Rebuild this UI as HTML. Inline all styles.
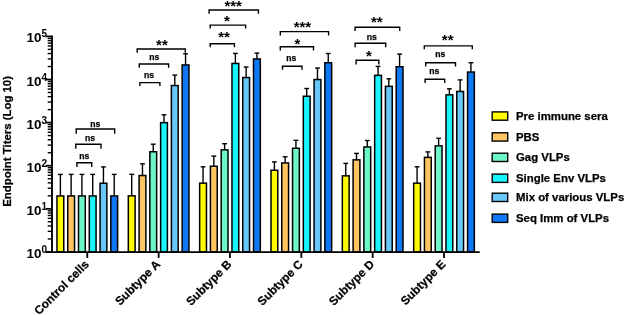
<!DOCTYPE html>
<html><head><meta charset="utf-8"><style>
html,body{margin:0;padding:0;background:#fff;width:625px;height:315px;overflow:hidden}
svg{display:block;will-change:transform}
text{font-family:"Liberation Sans",sans-serif;fill:#000;stroke:#000;stroke-width:0.25px}
.tl{font-size:13.5px;font-weight:bold;stroke-width:0}
.ts{font-size:10px;font-weight:bold;stroke-width:0}
.xl{font-size:11.8px;font-weight:bold}
.ns{font-size:8.6px;font-weight:bold}
.st{font-size:15px;font-weight:bold;stroke-width:0}
.yt{font-size:11.4px;font-weight:bold}
.lg{font-size:11.4px;font-weight:bold}
</style></head><body>
<svg width="625" height="315" viewBox="0 0 625 315">
<line x1="60.38" y1="195.70" x2="60.38" y2="174.40" stroke="#000" stroke-width="1.4"/>
<line x1="57.98" y1="174.40" x2="62.77" y2="174.40" stroke="#000" stroke-width="1.4"/>
<rect x="56.98" y="195.95" width="6.80" height="55.95" fill="#FFFA00" stroke="#000" stroke-width="1.5"/>
<line x1="71.14" y1="195.70" x2="71.14" y2="174.40" stroke="#000" stroke-width="1.4"/>
<line x1="68.74" y1="174.40" x2="73.55" y2="174.40" stroke="#000" stroke-width="1.4"/>
<rect x="67.74" y="195.95" width="6.80" height="55.95" fill="#FFC563" stroke="#000" stroke-width="1.5"/>
<line x1="81.91" y1="195.70" x2="81.91" y2="174.40" stroke="#000" stroke-width="1.4"/>
<line x1="79.51" y1="174.40" x2="84.31" y2="174.40" stroke="#000" stroke-width="1.4"/>
<rect x="78.51" y="195.95" width="6.80" height="55.95" fill="#6DF6C8" stroke="#000" stroke-width="1.5"/>
<line x1="92.69" y1="195.70" x2="92.69" y2="174.40" stroke="#000" stroke-width="1.4"/>
<line x1="90.28" y1="174.40" x2="95.09" y2="174.40" stroke="#000" stroke-width="1.4"/>
<rect x="89.28" y="195.95" width="6.80" height="55.95" fill="#18F4FB" stroke="#000" stroke-width="1.5"/>
<line x1="103.45" y1="183.00" x2="103.45" y2="166.90" stroke="#000" stroke-width="1.4"/>
<line x1="101.05" y1="166.90" x2="105.86" y2="166.90" stroke="#000" stroke-width="1.4"/>
<rect x="100.05" y="183.25" width="6.80" height="68.65" fill="#69C8FA" stroke="#000" stroke-width="1.5"/>
<line x1="114.22" y1="195.70" x2="114.22" y2="174.40" stroke="#000" stroke-width="1.4"/>
<line x1="111.82" y1="174.40" x2="116.62" y2="174.40" stroke="#000" stroke-width="1.4"/>
<rect x="110.82" y="195.95" width="6.80" height="55.95" fill="#0F78F5" stroke="#000" stroke-width="1.5"/>
<line x1="131.71" y1="195.60" x2="131.71" y2="174.30" stroke="#000" stroke-width="1.4"/>
<line x1="129.31" y1="174.30" x2="134.11" y2="174.30" stroke="#000" stroke-width="1.4"/>
<rect x="128.31" y="195.85" width="6.80" height="56.05" fill="#FFFA00" stroke="#000" stroke-width="1.5"/>
<line x1="142.48" y1="175.30" x2="142.48" y2="163.80" stroke="#000" stroke-width="1.4"/>
<line x1="140.08" y1="163.80" x2="144.88" y2="163.80" stroke="#000" stroke-width="1.4"/>
<rect x="139.08" y="175.55" width="6.80" height="76.35" fill="#FFC563" stroke="#000" stroke-width="1.5"/>
<line x1="153.25" y1="151.50" x2="153.25" y2="144.20" stroke="#000" stroke-width="1.4"/>
<line x1="150.85" y1="144.20" x2="155.66" y2="144.20" stroke="#000" stroke-width="1.4"/>
<rect x="149.85" y="151.75" width="6.80" height="100.15" fill="#6DF6C8" stroke="#000" stroke-width="1.5"/>
<line x1="164.02" y1="122.40" x2="164.02" y2="114.80" stroke="#000" stroke-width="1.4"/>
<line x1="161.62" y1="114.80" x2="166.42" y2="114.80" stroke="#000" stroke-width="1.4"/>
<rect x="160.62" y="122.65" width="6.80" height="129.25" fill="#18F4FB" stroke="#000" stroke-width="1.5"/>
<line x1="174.79" y1="85.30" x2="174.79" y2="75.10" stroke="#000" stroke-width="1.4"/>
<line x1="172.39" y1="75.10" x2="177.19" y2="75.10" stroke="#000" stroke-width="1.4"/>
<rect x="171.39" y="85.55" width="6.80" height="166.35" fill="#69C8FA" stroke="#000" stroke-width="1.5"/>
<line x1="185.56" y1="64.70" x2="185.56" y2="53.80" stroke="#000" stroke-width="1.4"/>
<line x1="183.16" y1="53.80" x2="187.97" y2="53.80" stroke="#000" stroke-width="1.4"/>
<rect x="182.16" y="64.95" width="6.80" height="186.95" fill="#0F78F5" stroke="#000" stroke-width="1.5"/>
<line x1="203.06" y1="182.90" x2="203.06" y2="166.80" stroke="#000" stroke-width="1.4"/>
<line x1="200.66" y1="166.80" x2="205.46" y2="166.80" stroke="#000" stroke-width="1.4"/>
<rect x="199.66" y="183.15" width="6.80" height="68.75" fill="#FFFA00" stroke="#000" stroke-width="1.5"/>
<line x1="213.83" y1="166.00" x2="213.83" y2="156.10" stroke="#000" stroke-width="1.4"/>
<line x1="211.43" y1="156.10" x2="216.23" y2="156.10" stroke="#000" stroke-width="1.4"/>
<rect x="210.43" y="166.25" width="6.80" height="85.65" fill="#FFC563" stroke="#000" stroke-width="1.5"/>
<line x1="224.60" y1="149.60" x2="224.60" y2="143.70" stroke="#000" stroke-width="1.4"/>
<line x1="222.20" y1="143.70" x2="227.00" y2="143.70" stroke="#000" stroke-width="1.4"/>
<rect x="221.20" y="149.85" width="6.80" height="102.05" fill="#6DF6C8" stroke="#000" stroke-width="1.5"/>
<line x1="235.37" y1="63.20" x2="235.37" y2="53.40" stroke="#000" stroke-width="1.4"/>
<line x1="232.97" y1="53.40" x2="237.77" y2="53.40" stroke="#000" stroke-width="1.4"/>
<rect x="231.97" y="63.45" width="6.80" height="188.45" fill="#18F4FB" stroke="#000" stroke-width="1.5"/>
<line x1="246.14" y1="77.30" x2="246.14" y2="67.00" stroke="#000" stroke-width="1.4"/>
<line x1="243.74" y1="67.00" x2="248.54" y2="67.00" stroke="#000" stroke-width="1.4"/>
<rect x="242.74" y="77.55" width="6.80" height="174.35" fill="#69C8FA" stroke="#000" stroke-width="1.5"/>
<line x1="256.91" y1="58.70" x2="256.91" y2="53.10" stroke="#000" stroke-width="1.4"/>
<line x1="254.51" y1="53.10" x2="259.31" y2="53.10" stroke="#000" stroke-width="1.4"/>
<rect x="253.51" y="58.95" width="6.80" height="192.95" fill="#0F78F5" stroke="#000" stroke-width="1.5"/>
<line x1="274.39" y1="170.00" x2="274.39" y2="161.90" stroke="#000" stroke-width="1.4"/>
<line x1="272.00" y1="161.90" x2="276.79" y2="161.90" stroke="#000" stroke-width="1.4"/>
<rect x="271.00" y="170.25" width="6.80" height="81.65" fill="#FFFA00" stroke="#000" stroke-width="1.5"/>
<line x1="285.16" y1="162.70" x2="285.16" y2="156.80" stroke="#000" stroke-width="1.4"/>
<line x1="282.76" y1="156.80" x2="287.56" y2="156.80" stroke="#000" stroke-width="1.4"/>
<rect x="281.76" y="162.95" width="6.80" height="88.95" fill="#FFC563" stroke="#000" stroke-width="1.5"/>
<line x1="295.94" y1="148.00" x2="295.94" y2="140.30" stroke="#000" stroke-width="1.4"/>
<line x1="293.54" y1="140.30" x2="298.33" y2="140.30" stroke="#000" stroke-width="1.4"/>
<rect x="292.54" y="148.25" width="6.80" height="103.65" fill="#6DF6C8" stroke="#000" stroke-width="1.5"/>
<line x1="306.70" y1="96.00" x2="306.70" y2="88.50" stroke="#000" stroke-width="1.4"/>
<line x1="304.31" y1="88.50" x2="309.10" y2="88.50" stroke="#000" stroke-width="1.4"/>
<rect x="303.31" y="96.25" width="6.80" height="155.65" fill="#18F4FB" stroke="#000" stroke-width="1.5"/>
<line x1="317.48" y1="79.30" x2="317.48" y2="68.00" stroke="#000" stroke-width="1.4"/>
<line x1="315.08" y1="68.00" x2="319.88" y2="68.00" stroke="#000" stroke-width="1.4"/>
<rect x="314.08" y="79.55" width="6.80" height="172.35" fill="#69C8FA" stroke="#000" stroke-width="1.5"/>
<line x1="328.25" y1="62.50" x2="328.25" y2="53.50" stroke="#000" stroke-width="1.4"/>
<line x1="325.85" y1="53.50" x2="330.64" y2="53.50" stroke="#000" stroke-width="1.4"/>
<rect x="324.85" y="62.75" width="6.80" height="189.15" fill="#0F78F5" stroke="#000" stroke-width="1.5"/>
<line x1="345.74" y1="175.60" x2="345.74" y2="163.40" stroke="#000" stroke-width="1.4"/>
<line x1="343.34" y1="163.40" x2="348.13" y2="163.40" stroke="#000" stroke-width="1.4"/>
<rect x="342.34" y="175.85" width="6.80" height="76.05" fill="#FFFA00" stroke="#000" stroke-width="1.5"/>
<line x1="356.50" y1="159.60" x2="356.50" y2="153.40" stroke="#000" stroke-width="1.4"/>
<line x1="354.11" y1="153.40" x2="358.90" y2="153.40" stroke="#000" stroke-width="1.4"/>
<rect x="353.11" y="159.85" width="6.80" height="92.05" fill="#FFC563" stroke="#000" stroke-width="1.5"/>
<line x1="367.28" y1="146.70" x2="367.28" y2="140.50" stroke="#000" stroke-width="1.4"/>
<line x1="364.88" y1="140.50" x2="369.68" y2="140.50" stroke="#000" stroke-width="1.4"/>
<rect x="363.88" y="146.95" width="6.80" height="104.95" fill="#6DF6C8" stroke="#000" stroke-width="1.5"/>
<line x1="378.05" y1="75.10" x2="378.05" y2="66.40" stroke="#000" stroke-width="1.4"/>
<line x1="375.65" y1="66.40" x2="380.44" y2="66.40" stroke="#000" stroke-width="1.4"/>
<rect x="374.65" y="75.35" width="6.80" height="176.55" fill="#18F4FB" stroke="#000" stroke-width="1.5"/>
<line x1="388.82" y1="86.10" x2="388.82" y2="78.80" stroke="#000" stroke-width="1.4"/>
<line x1="386.42" y1="78.80" x2="391.22" y2="78.80" stroke="#000" stroke-width="1.4"/>
<rect x="385.42" y="86.35" width="6.80" height="165.55" fill="#69C8FA" stroke="#000" stroke-width="1.5"/>
<line x1="399.59" y1="66.50" x2="399.59" y2="54.10" stroke="#000" stroke-width="1.4"/>
<line x1="397.19" y1="54.10" x2="401.99" y2="54.10" stroke="#000" stroke-width="1.4"/>
<rect x="396.19" y="66.75" width="6.80" height="185.15" fill="#0F78F5" stroke="#000" stroke-width="1.5"/>
<line x1="417.08" y1="182.90" x2="417.08" y2="166.80" stroke="#000" stroke-width="1.4"/>
<line x1="414.68" y1="166.80" x2="419.48" y2="166.80" stroke="#000" stroke-width="1.4"/>
<rect x="413.68" y="183.15" width="6.80" height="68.75" fill="#FFFA00" stroke="#000" stroke-width="1.5"/>
<line x1="427.85" y1="157.10" x2="427.85" y2="151.90" stroke="#000" stroke-width="1.4"/>
<line x1="425.45" y1="151.90" x2="430.25" y2="151.90" stroke="#000" stroke-width="1.4"/>
<rect x="424.45" y="157.35" width="6.80" height="94.55" fill="#FFC563" stroke="#000" stroke-width="1.5"/>
<line x1="438.62" y1="145.60" x2="438.62" y2="138.30" stroke="#000" stroke-width="1.4"/>
<line x1="436.22" y1="138.30" x2="441.02" y2="138.30" stroke="#000" stroke-width="1.4"/>
<rect x="435.22" y="145.85" width="6.80" height="106.05" fill="#6DF6C8" stroke="#000" stroke-width="1.5"/>
<line x1="449.39" y1="94.60" x2="449.39" y2="88.80" stroke="#000" stroke-width="1.4"/>
<line x1="446.99" y1="88.80" x2="451.79" y2="88.80" stroke="#000" stroke-width="1.4"/>
<rect x="445.99" y="94.85" width="6.80" height="157.05" fill="#18F4FB" stroke="#000" stroke-width="1.5"/>
<line x1="460.16" y1="91.20" x2="460.16" y2="79.90" stroke="#000" stroke-width="1.4"/>
<line x1="457.76" y1="79.90" x2="462.56" y2="79.90" stroke="#000" stroke-width="1.4"/>
<rect x="456.76" y="91.45" width="6.80" height="160.45" fill="#69C8FA" stroke="#000" stroke-width="1.5"/>
<line x1="470.93" y1="71.80" x2="470.93" y2="62.70" stroke="#000" stroke-width="1.4"/>
<line x1="468.53" y1="62.70" x2="473.33" y2="62.70" stroke="#000" stroke-width="1.4"/>
<rect x="467.53" y="72.05" width="6.80" height="179.85" fill="#0F78F5" stroke="#000" stroke-width="1.5"/>
<line x1="52" y1="35.60" x2="52" y2="252.60" stroke="#000" stroke-width="1.9"/>
<line x1="46" y1="252.10" x2="479.8" y2="252.10" stroke="#000" stroke-width="1.9"/>
<line x1="45.8" y1="251.90" x2="52" y2="251.90" stroke="#000" stroke-width="1.7"/>
<text x="41.5" y="257.90" text-anchor="end" class="tl">10</text>
<text x="41.6" y="252.90" class="ts">0</text>
<line x1="47.7" y1="238.93" x2="52" y2="238.93" stroke="#000" stroke-width="1.4"/>
<line x1="47.7" y1="231.34" x2="52" y2="231.34" stroke="#000" stroke-width="1.4"/>
<line x1="47.7" y1="225.95" x2="52" y2="225.95" stroke="#000" stroke-width="1.4"/>
<line x1="47.7" y1="221.77" x2="52" y2="221.77" stroke="#000" stroke-width="1.4"/>
<line x1="47.7" y1="218.36" x2="52" y2="218.36" stroke="#000" stroke-width="1.4"/>
<line x1="47.7" y1="215.48" x2="52" y2="215.48" stroke="#000" stroke-width="1.4"/>
<line x1="47.7" y1="212.98" x2="52" y2="212.98" stroke="#000" stroke-width="1.4"/>
<line x1="47.7" y1="210.77" x2="52" y2="210.77" stroke="#000" stroke-width="1.4"/>
<line x1="45.8" y1="208.80" x2="52" y2="208.80" stroke="#000" stroke-width="1.7"/>
<text x="41.5" y="214.80" text-anchor="end" class="tl">10</text>
<text x="41.6" y="209.80" class="ts">1</text>
<line x1="47.7" y1="195.83" x2="52" y2="195.83" stroke="#000" stroke-width="1.4"/>
<line x1="47.7" y1="188.24" x2="52" y2="188.24" stroke="#000" stroke-width="1.4"/>
<line x1="47.7" y1="182.85" x2="52" y2="182.85" stroke="#000" stroke-width="1.4"/>
<line x1="47.7" y1="178.67" x2="52" y2="178.67" stroke="#000" stroke-width="1.4"/>
<line x1="47.7" y1="175.26" x2="52" y2="175.26" stroke="#000" stroke-width="1.4"/>
<line x1="47.7" y1="172.38" x2="52" y2="172.38" stroke="#000" stroke-width="1.4"/>
<line x1="47.7" y1="169.88" x2="52" y2="169.88" stroke="#000" stroke-width="1.4"/>
<line x1="47.7" y1="167.67" x2="52" y2="167.67" stroke="#000" stroke-width="1.4"/>
<line x1="45.8" y1="165.70" x2="52" y2="165.70" stroke="#000" stroke-width="1.7"/>
<text x="41.5" y="171.70" text-anchor="end" class="tl">10</text>
<text x="41.6" y="166.70" class="ts">2</text>
<line x1="47.7" y1="152.73" x2="52" y2="152.73" stroke="#000" stroke-width="1.4"/>
<line x1="47.7" y1="145.14" x2="52" y2="145.14" stroke="#000" stroke-width="1.4"/>
<line x1="47.7" y1="139.75" x2="52" y2="139.75" stroke="#000" stroke-width="1.4"/>
<line x1="47.7" y1="135.57" x2="52" y2="135.57" stroke="#000" stroke-width="1.4"/>
<line x1="47.7" y1="132.16" x2="52" y2="132.16" stroke="#000" stroke-width="1.4"/>
<line x1="47.7" y1="129.28" x2="52" y2="129.28" stroke="#000" stroke-width="1.4"/>
<line x1="47.7" y1="126.78" x2="52" y2="126.78" stroke="#000" stroke-width="1.4"/>
<line x1="47.7" y1="124.57" x2="52" y2="124.57" stroke="#000" stroke-width="1.4"/>
<line x1="45.8" y1="122.60" x2="52" y2="122.60" stroke="#000" stroke-width="1.7"/>
<text x="41.5" y="128.60" text-anchor="end" class="tl">10</text>
<text x="41.6" y="123.60" class="ts">3</text>
<line x1="47.7" y1="109.63" x2="52" y2="109.63" stroke="#000" stroke-width="1.4"/>
<line x1="47.7" y1="102.04" x2="52" y2="102.04" stroke="#000" stroke-width="1.4"/>
<line x1="47.7" y1="96.65" x2="52" y2="96.65" stroke="#000" stroke-width="1.4"/>
<line x1="47.7" y1="92.47" x2="52" y2="92.47" stroke="#000" stroke-width="1.4"/>
<line x1="47.7" y1="89.06" x2="52" y2="89.06" stroke="#000" stroke-width="1.4"/>
<line x1="47.7" y1="86.18" x2="52" y2="86.18" stroke="#000" stroke-width="1.4"/>
<line x1="47.7" y1="83.68" x2="52" y2="83.68" stroke="#000" stroke-width="1.4"/>
<line x1="47.7" y1="81.47" x2="52" y2="81.47" stroke="#000" stroke-width="1.4"/>
<line x1="45.8" y1="79.50" x2="52" y2="79.50" stroke="#000" stroke-width="1.7"/>
<text x="41.5" y="85.50" text-anchor="end" class="tl">10</text>
<text x="41.6" y="80.50" class="ts">4</text>
<line x1="47.7" y1="66.53" x2="52" y2="66.53" stroke="#000" stroke-width="1.4"/>
<line x1="47.7" y1="58.94" x2="52" y2="58.94" stroke="#000" stroke-width="1.4"/>
<line x1="47.7" y1="53.55" x2="52" y2="53.55" stroke="#000" stroke-width="1.4"/>
<line x1="47.7" y1="49.37" x2="52" y2="49.37" stroke="#000" stroke-width="1.4"/>
<line x1="47.7" y1="45.96" x2="52" y2="45.96" stroke="#000" stroke-width="1.4"/>
<line x1="47.7" y1="43.08" x2="52" y2="43.08" stroke="#000" stroke-width="1.4"/>
<line x1="47.7" y1="40.58" x2="52" y2="40.58" stroke="#000" stroke-width="1.4"/>
<line x1="47.7" y1="38.37" x2="52" y2="38.37" stroke="#000" stroke-width="1.4"/>
<line x1="45.8" y1="36.40" x2="52" y2="36.40" stroke="#000" stroke-width="1.7"/>
<text x="41.5" y="42.40" text-anchor="end" class="tl">10</text>
<text x="41.6" y="37.40" class="ts">5</text>
<line x1="87.30" y1="251.90" x2="87.30" y2="257.9" stroke="#000" stroke-width="1.8"/>
<text transform="translate(89.60,265) rotate(-45)" text-anchor="end" class="xl">Control cells</text>
<line x1="158.64" y1="251.90" x2="158.64" y2="257.9" stroke="#000" stroke-width="1.8"/>
<text transform="translate(160.94,265) rotate(-45)" text-anchor="end" class="xl">Subtype A</text>
<line x1="229.98" y1="251.90" x2="229.98" y2="257.9" stroke="#000" stroke-width="1.8"/>
<text transform="translate(232.28,265) rotate(-45)" text-anchor="end" class="xl">Subtype B</text>
<line x1="301.32" y1="251.90" x2="301.32" y2="257.9" stroke="#000" stroke-width="1.8"/>
<text transform="translate(303.62,265) rotate(-45)" text-anchor="end" class="xl">Subtype C</text>
<line x1="372.66" y1="251.90" x2="372.66" y2="257.9" stroke="#000" stroke-width="1.8"/>
<text transform="translate(374.96,265) rotate(-45)" text-anchor="end" class="xl">Subtype D</text>
<line x1="444.00" y1="251.90" x2="444.00" y2="257.9" stroke="#000" stroke-width="1.8"/>
<text transform="translate(446.30,265) rotate(-45)" text-anchor="end" class="xl">Subtype E</text>
<path d="M76.20,133.80 V129.00 H114.70 V133.80" fill="none" stroke="#000" stroke-width="1.4"/>
<text x="95.30" y="126.80" text-anchor="middle" class="ns">ns</text>
<path d="M75.80,148.70 V144.30 H101.00 V148.70" fill="none" stroke="#000" stroke-width="1.4"/>
<text x="90.00" y="141.00" text-anchor="middle" class="ns">ns</text>
<path d="M76.90,167.10 V162.80 H91.70 V167.10" fill="none" stroke="#000" stroke-width="1.4"/>
<text x="84.30" y="159.00" text-anchor="middle" class="ns">ns</text>
<path d="M137.20,52.70 V49.00 H185.30 V52.70" fill="none" stroke="#000" stroke-width="1.4"/>
<text x="161.90" y="50.00" text-anchor="middle" class="st">**</text>
<path d="M139.30,67.80 V64.00 H168.60 V67.80" fill="none" stroke="#000" stroke-width="1.4"/>
<text x="154.20" y="60.30" text-anchor="middle" class="ns">ns</text>
<path d="M139.90,86.10 V82.60 H159.90 V86.10" fill="none" stroke="#000" stroke-width="1.4"/>
<text x="149.00" y="77.90" text-anchor="middle" class="ns">ns</text>
<path d="M209.10,13.80 V10.00 H258.40 V13.80" fill="none" stroke="#000" stroke-width="1.4"/>
<text x="233.20" y="10.70" text-anchor="middle" class="st">***</text>
<path d="M210.20,28.40 V25.10 H245.60 V28.40" fill="none" stroke="#000" stroke-width="1.4"/>
<text x="226.80" y="26.10" text-anchor="middle" class="st">*</text>
<path d="M210.20,47.30 V43.80 H234.40 V47.30" fill="none" stroke="#000" stroke-width="1.4"/>
<text x="224.00" y="42.30" text-anchor="middle" class="st">**</text>
<path d="M280.30,35.50 V31.60 H328.60 V35.50" fill="none" stroke="#000" stroke-width="1.4"/>
<text x="302.40" y="32.00" text-anchor="middle" class="st">***</text>
<path d="M280.30,50.50 V46.80 H313.50 V50.50" fill="none" stroke="#000" stroke-width="1.4"/>
<text x="297.30" y="48.50" text-anchor="middle" class="st">*</text>
<path d="M282.50,69.80 V66.30 H302.00 V69.80" fill="none" stroke="#000" stroke-width="1.4"/>
<text x="291.30" y="60.90" text-anchor="middle" class="ns">ns</text>
<path d="M355.10,31.10 V27.30 H399.70 V31.10" fill="none" stroke="#000" stroke-width="1.4"/>
<text x="376.80" y="27.00" text-anchor="middle" class="st">**</text>
<path d="M355.10,47.30 V43.20 H385.70 V47.30" fill="none" stroke="#000" stroke-width="1.4"/>
<text x="371.80" y="40.00" text-anchor="middle" class="ns">ns</text>
<path d="M356.10,64.60 V60.30 H378.80 V64.60" fill="none" stroke="#000" stroke-width="1.4"/>
<text x="368.80" y="61.00" text-anchor="middle" class="st">*</text>
<path d="M424.30,49.30 V45.90 H472.30 V49.30" fill="none" stroke="#000" stroke-width="1.4"/>
<text x="447.70" y="45.20" text-anchor="middle" class="st">**</text>
<path d="M425.70,66.60 V62.80 H455.50 V66.60" fill="none" stroke="#000" stroke-width="1.4"/>
<text x="440.20" y="57.00" text-anchor="middle" class="ns">ns</text>
<path d="M425.10,83.10 V79.30 H444.70 V83.10" fill="none" stroke="#000" stroke-width="1.4"/>
<text x="434.20" y="74.10" text-anchor="middle" class="ns">ns</text>
<text transform="translate(10.8,141.4) rotate(-90)" text-anchor="middle" class="yt">Endpoint Titers (Log 10)</text>
<rect x="492.2" y="111.90" width="15.5" height="8.3" fill="#FFFA00" stroke="#000" stroke-width="1.4"/>
<text x="516" y="119.90" class="lg">Pre immune sera</text>
<rect x="492.2" y="132.80" width="15.5" height="8.3" fill="#FFC563" stroke="#000" stroke-width="1.4"/>
<text x="516" y="140.80" class="lg">PBS</text>
<rect x="492.2" y="153.20" width="15.5" height="8.3" fill="#6DF6C8" stroke="#000" stroke-width="1.4"/>
<text x="516" y="161.20" class="lg">Gag VLPs</text>
<rect x="492.2" y="174.10" width="15.5" height="8.3" fill="#18F4FB" stroke="#000" stroke-width="1.4"/>
<text x="516" y="182.10" class="lg">Single Env VLPs</text>
<rect x="492.2" y="193.20" width="15.5" height="8.3" fill="#69C8FA" stroke="#000" stroke-width="1.4"/>
<text x="516" y="201.20" class="lg">Mix of various VLPs</text>
<rect x="492.2" y="214.10" width="15.5" height="8.3" fill="#0F78F5" stroke="#000" stroke-width="1.4"/>
<text x="516" y="222.10" class="lg">Seq Imm of VLPs</text>
</svg>
</body></html>
